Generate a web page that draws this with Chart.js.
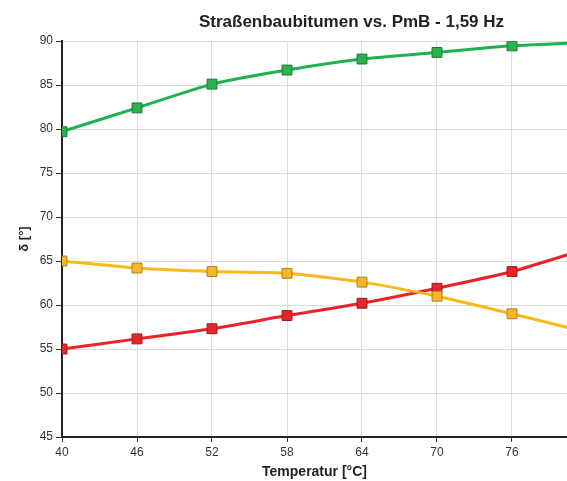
<!DOCTYPE html>
<html>
<head>
<meta charset="utf-8">
<script src="https://cdn.jsdelivr.net/npm/chart.js@4/dist/chart.umd.min.js"></script>
<style>
  body { margin: 0; background: #fff; }
  #wrap { width: 567px; height: 481px; }
</style>
</head>
<body>
<div id="wrap"><canvas id="deltaChart" width="567" height="481"></canvas></div>
<script>
// Phase angle over temperature, three binders
const temperatures = [40, 46, 52, 58, 64, 70, 76, 82];
const greenSeries  = [79.7, 82.4, 85.1, 86.7, 87.95, 88.7, 89.45, 89.85];
const orangeSeries = [65.0, 64.2, 63.8, 63.6, 62.6, 61.0, 59.0, 56.9];
const redSeries    = [55.0, 56.15, 57.3, 58.8, 60.2, 61.9, 63.8, 66.4];
const xTicks = [40, 46, 52, 58, 64, 70, 76];
const yTicks = [45, 50, 55, 60, 65, 70, 75, 80, 85, 90];

const toPoints = (vals) => vals.map((v, i) => ({ x: temperatures[i], y: v }));

function series(vals, line, fill, edge) {
    return {
        data: toPoints(vals),
        borderColor: line,
        borderWidth: 3,
        backgroundColor: fill,
        pointBackgroundColor: fill,
        pointBorderColor: edge,
        pointBorderWidth: 1,
        pointStyle: 'rect',
        pointRadius: 7,
        tension: 0.2
    };
}

// nudge the title to the right of the plot centre
const shiftTitle = {
    id: 'shiftTitle',
    afterLayout(chart) {
        const t = chart.titleBlock;
        t.left = 136;
        t.width = t.right - t.left;
    }
};

const ctx = document.getElementById('deltaChart').getContext('2d');
Chart.defaults.font.family = '"Liberation Sans", Arial, sans-serif';
Chart.defaults.color = '#333';

new Chart(ctx, {
    type: 'line',
    data: {
        datasets: [
            series(greenSeries, '#1fb04f', '#2bb24c', '#1b7a36'),
            series(orangeSeries, '#fcb81a', '#f8b52a', '#a9821f'),
            series(redSeries, '#ea2328', '#e3262b', '#9c1b1d')
        ]
    },
    plugins: [shiftTitle],
    options: {
        responsive: false,
        animation: false,
        layout: { autoPadding: false, padding: 0 },
        plugins: {
            legend: { display: false },
            tooltip: { enabled: false },
            title: {
                display: true,
                fullSize: false,
                text: 'Straßenbaubitumen vs. PmB - 1,59 Hz',
                color: '#222',
                font: { size: 17, weight: 'bold' },
                padding: { top: 12.5, bottom: 8.1 }
            }
        },
        scales: {
            x: {
                type: 'linear',
                min: 40,
                max: 80.4,
                afterBuildTicks: (axis) => { axis.ticks = xTicks.map(v => ({ value: v })); },
                afterFit: (axis) => { axis.height = 44; axis.paddingRight = 0; },
                border: { color: '#222', width: 2 },
                grid: { color: '#dcdcdc', tickColor: '#333', tickLength: 5 },
                ticks: { font: { size: 12 }, color: '#333', padding: 3, maxRotation: 0 },
                title: {
                    display: true,
                    text: 'Temperatur [°C]',
                    color: '#222',
                    font: { size: 14, weight: 'bold' },
                    padding: { top: 0, bottom: 0 }
                }
            },
            y: {
                min: 45,
                max: 90,
                afterBuildTicks: (axis) => { axis.ticks = yTicks.map(v => ({ value: v })); },
                afterFit: (axis) => { axis.width = 62; },
                border: { color: '#222', width: 2 },
                grid: { color: '#dcdcdc', tickColor: '#333', tickLength: 6 },
                ticks: { font: { size: 12 }, color: '#333', padding: 3 },
                title: {
                    display: true,
                    text: 'δ [°]',
                    color: '#222',
                    font: { size: 13, weight: 'bold' },
                    padding: { top: 17, bottom: 6 }
                }
            }
        }
    }
});
</script>
</body>
</html>
